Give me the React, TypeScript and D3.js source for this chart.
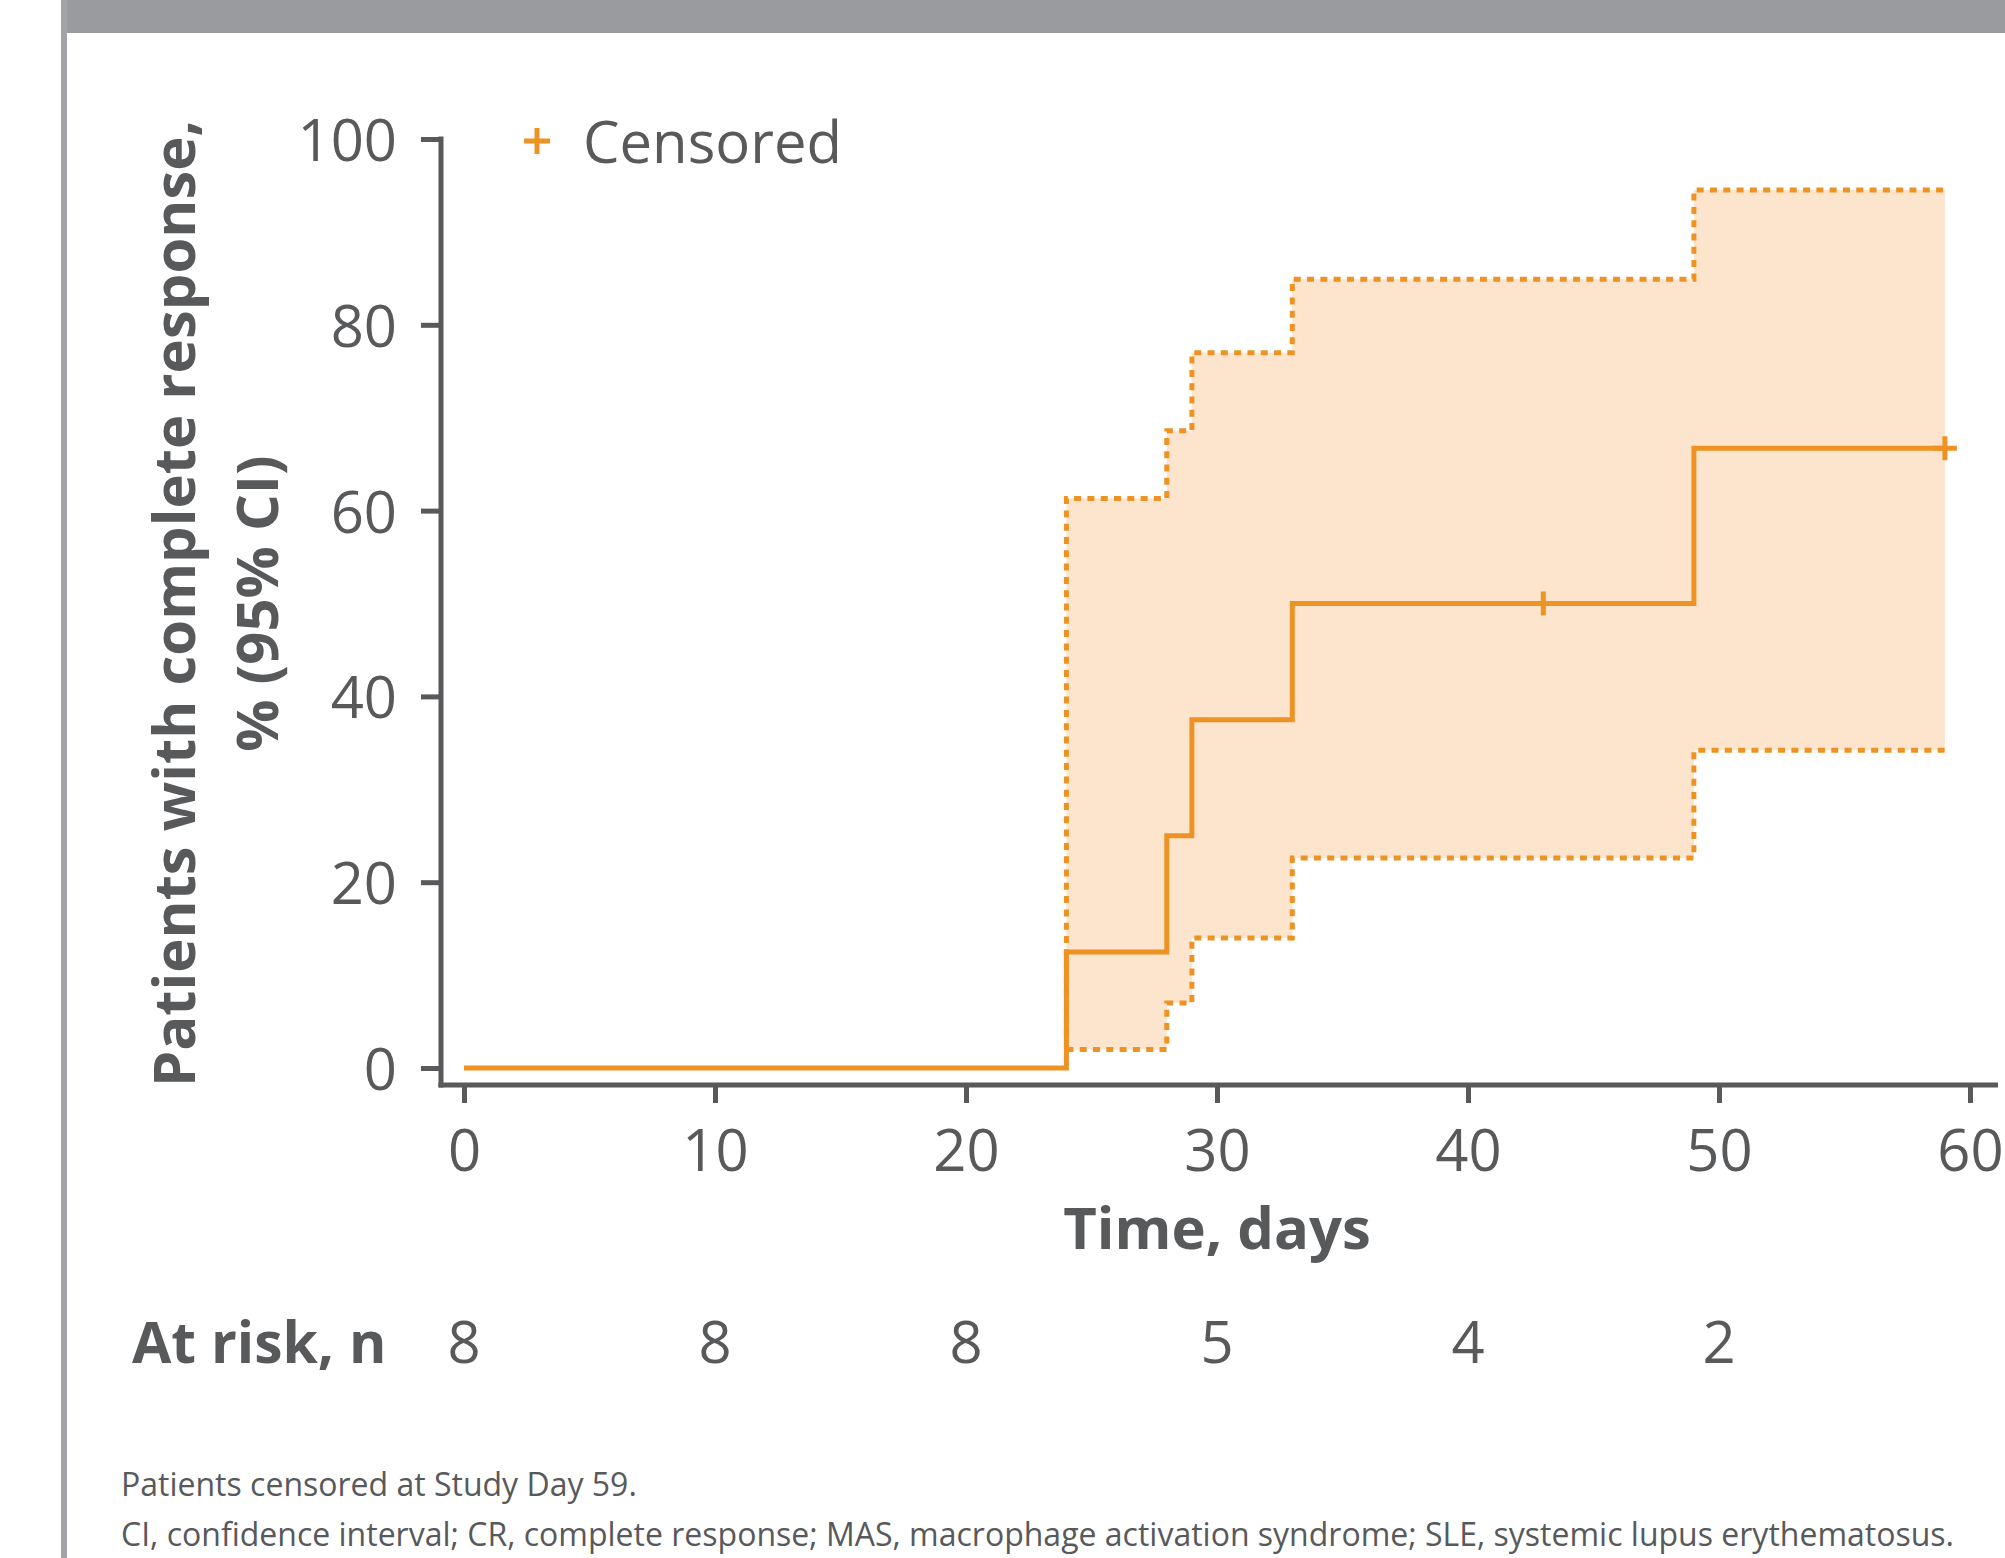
import React, { useEffect, useRef } from 'react';
import * as d3 from 'd3';

// Kaplan-Meier style cumulative response curve
const stepDays = [0, 24, 28, 29, 33, 49];
const stepValues = [0, 12.5, 25, 37.5, 50, 66.7];
const lastDay = 59;

const ciDays = [24, 28, 29, 33, 49];
const ciUpper = [61.3, 68.6, 77.0, 84.9, 94.5];
const ciLower = [2.0, 7.0, 14.0, 22.6, 34.2];

const censorDays = [43, 59];
const censorValues = [50, 66.7];

const xTicks = [0, 10, 20, 30, 40, 50, 60];
const yTicks = [0, 20, 40, 60, 80, 100];

const atRiskDays = [0, 10, 20, 30, 40, 50];
const atRiskCounts = [8, 8, 8, 5, 4, 2];

const GREY = '#58595b';
const ORANGE = '#ee9323';
const BAND = '#fce5cc';
const FONT = '"Open Sans", "Noto Sans", sans-serif';

const App: React.FC = () => {
  const ref = useRef<SVGSVGElement>(null);

  useEffect(() => {
    if (!ref.current) return;
    const svg = d3.select(ref.current);
    svg.selectAll('*').remove();

    const W = 2005;
    const H = 1558;

    const x = d3.scaleLinear().domain([0, 60]).range([464, 1970]);
    const y = d3.scaleLinear().domain([0, 100]).range([1068, 139]);
    const yAxisX = 441;
    const xAxisY = 1085;

    svg.append('rect').attr('width', W).attr('height', H).attr('fill', '#fff');

    // frame
    svg.append('rect').attr('x', 61).attr('y', 0).attr('width', W - 61).attr('height', 33).attr('fill', '#9a9b9f');
    svg.append('rect').attr('x', 61).attr('y', 0).attr('width', 6).attr('height', H).attr('fill', '#a3a4a8');

    // CI band
    const ciData = ciDays.map((d, i) => ({ day: d, lo: ciLower[i], hi: ciUpper[i] }));
    ciData.push({ day: lastDay, lo: ciLower[ciLower.length - 1], hi: ciUpper[ciUpper.length - 1] });

    const area = d3.area<{ day: number; lo: number; hi: number }>()
      .curve(d3.curveStepAfter)
      .x(d => x(d.day))
      .y0(d => y(d.lo))
      .y1(d => y(d.hi));

    svg.append('path').datum(ciData).attr('d', area).attr('fill', BAND);

    const line = d3.line<[number, number]>()
      .curve(d3.curveStepAfter)
      .x(d => x(d[0]))
      .y(d => y(d[1]));

    const upperPts: [number, number][] = [[ciDays[0], ciLower[0]], ...ciData.map(d => [d.day, d.hi] as [number, number])];
    const lowerPts: [number, number][] = ciData.map(d => [d.day, d.lo] as [number, number]);

    [upperPts, lowerPts].forEach(pts => {
      svg.append('path')
        .datum(pts)
        .attr('d', line)
        .attr('fill', 'none')
        .attr('stroke', ORANGE)
        .attr('stroke-width', 5)
        .attr('stroke-dasharray', '7,6.3');
    });

    // axes
    const xAxis = svg.append('g')
      .attr('transform', `translate(0,${xAxisY})`)
      .call(d3.axisBottom(x).tickValues(xTicks).tickSize(18).tickFormat(d3.format('d')));
    xAxis.select('.domain').remove();
    xAxis.selectAll('.tick line').attr('stroke', GREY).attr('stroke-width', 5);
    xAxis.selectAll('.tick text')
      .attr('y', 86).attr('dy', 0)
      .attr('fill', GREY).attr('font-size', 58).attr('font-family', FONT);

    const yAxis = svg.append('g')
      .attr('transform', `translate(${yAxisX},0)`)
      .call(d3.axisLeft(y).tickValues(yTicks).tickSize(20).tickFormat(d3.format('d')));
    yAxis.select('.domain').remove();
    yAxis.selectAll('.tick line').attr('stroke', GREY).attr('stroke-width', 5);
    yAxis.selectAll('.tick text')
      .attr('x', -44).attr('dy', '0.37em')
      .attr('fill', GREY).attr('font-size', 58).attr('font-family', FONT);

    svg.append('line')
      .attr('x1', yAxisX).attr('x2', yAxisX)
      .attr('y1', y(100) - 2.5).attr('y2', xAxisY + 2.5)
      .attr('stroke', GREY).attr('stroke-width', 5);
    svg.append('line')
      .attr('x1', yAxisX - 2.5).attr('x2', x(60) + 28)
      .attr('y1', xAxisY).attr('y2', xAxisY)
      .attr('stroke', GREY).attr('stroke-width', 5);

    // response curve
    const curvePts: [number, number][] = stepDays.map((d, i) => [d, stepValues[i]] as [number, number]);
    curvePts.push([lastDay, stepValues[stepValues.length - 1]]);
    svg.append('path')
      .datum(curvePts)
      .attr('d', line)
      .attr('fill', 'none')
      .attr('stroke', ORANGE)
      .attr('stroke-width', 5);

    // censor marks
    censorDays.forEach((d, i) => {
      const cx = x(d);
      const cy = y(censorValues[i]);
      svg.append('path')
        .attr('d', `M${cx - 12},${cy}H${cx + 12}M${cx},${cy - 12}V${cy + 12}`)
        .attr('stroke', ORANGE)
        .attr('stroke-width', 5)
        .attr('fill', 'none');
    });

    // legend
    const lx = 537;
    const ly = 141;
    svg.append('path')
      .attr('d', `M${lx - 13},${ly}H${lx + 13}M${lx},${ly - 13}V${ly + 13}`)
      .attr('stroke', ORANGE)
      .attr('stroke-width', 5);
    svg.append('text')
      .attr('x', 583).attr('y', 163)
      .attr('font-size', 58).attr('font-family', FONT).attr('fill', GREY)
      .text('Censored');

    // axis titles
    const midX = (x.range()[0] + x.range()[1]) / 2;
    svg.append('text')
      .attr('x', midX).attr('y', 1249)
      .attr('text-anchor', 'middle')
      .attr('font-size', 58).attr('font-weight', 700).attr('font-family', FONT).attr('fill', GREY)
      .text('Time, days');

    const midY = (y.range()[0] + y.range()[1]) / 2;
    const yLabel = svg.append('text')
      .attr('transform', `translate(195,${midY}) rotate(-90)`)
      .attr('text-anchor', 'middle')
      .attr('font-size', 58).attr('font-weight', 700).attr('font-family', FONT).attr('fill', GREY);
    yLabel.append('tspan').attr('x', 0).attr('y', 0).text('Patients with complete response,');
    yLabel.append('tspan').attr('x', 0).attr('y', 83).text('% (95% CI)');

    // at risk row
    svg.append('text')
      .attr('x', 132).attr('y', 1363)
      .attr('font-size', 57).attr('font-weight', 700).attr('font-family', FONT).attr('fill', GREY)
      .text('At risk, n');
    svg.selectAll('text.risk')
      .data(atRiskCounts)
      .join('text')
      .attr('class', 'risk')
      .attr('x', (d, i) => x(atRiskDays[i]))
      .attr('y', 1363)
      .attr('text-anchor', 'middle')
      .attr('font-size', 58).attr('font-family', FONT).attr('fill', GREY)
      .text(d => d);

    // footnotes
    svg.append('text')
      .attr('x', 121).attr('y', 1496)
      .attr('font-size', 32).attr('font-family', FONT).attr('fill', GREY)
      .text('Patients censored at Study Day 59.');
    svg.append('text')
      .attr('x', 121).attr('y', 1546)
      .attr('font-size', 32).attr('font-family', FONT).attr('fill', GREY)
      .text('CI, confidence interval; CR, complete response; MAS, macrophage activation syndrome; SLE, systemic lupus erythematosus.');
  }, []);

  return (
    <svg
      ref={ref}
      width={2005}
      height={1558}
      style={{ position: 'absolute', left: 0, top: 0, overflow: 'hidden' }}
    />
  );
};

export default App;
